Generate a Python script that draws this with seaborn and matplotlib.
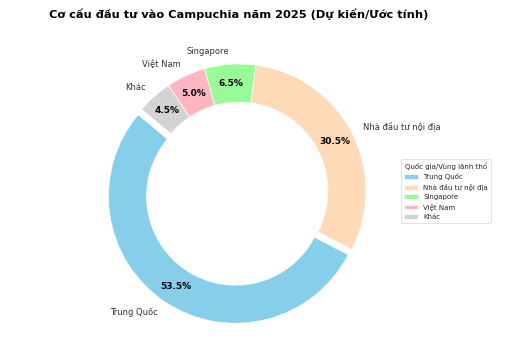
import matplotlib
matplotlib.use("Agg")
import matplotlib.pyplot as plt
import seaborn as sns

sns.set_style("white")
plt.rcParams['font.family'] = ['DejaVu Sans']

categories = ["Trung Quốc", "Nhà đầu tư nội địa", "Singapore", "Việt Nam", "Khác"]
values = [53.5, 30.5, 6.5, 5.0, 4.5]
colors = ["#87CEEB", "#FFDAB9", "#98FB98", "#FFB6C1", "#D3D3D3"]
explode = [0.05, 0, 0, 0, 0]

fig = plt.figure(figsize=(10.24, 7.16), dpi=50)
ax = fig.add_axes([80.25 / 512, 8.25 / 358, 317.5 / 512, 317.5 / 358])
wedges, texts, autotexts = ax.pie(
    values, labels=categories, colors=colors, explode=explode,
    autopct="%1.1f%%", startangle=140, pctdistance=0.85,
    wedgeprops=dict(width=0.3), textprops=dict(fontsize=12, color="#333333"))
for t in autotexts:
    t.set_fontweight("bold")
    t.set_color("black")
    t.set_fontsize(13)
ax.set_aspect("equal")
ax.set_title("Cơ cấu đầu tư vào Campuchia năm 2025 (Dự kiến/Ước tính)",
             fontsize=16.3, fontweight="bold", x=0.5, pad=21, color="black")
ax.legend(wedges, categories, title="Quốc gia/Vùng lãnh thổ", loc="center left",
          bbox_to_anchor=(1.01, 0, 0.5, 1), borderaxespad=0,
          fontsize=10, title_fontsize=10)
fig.savefig("out.png", dpi=50)
